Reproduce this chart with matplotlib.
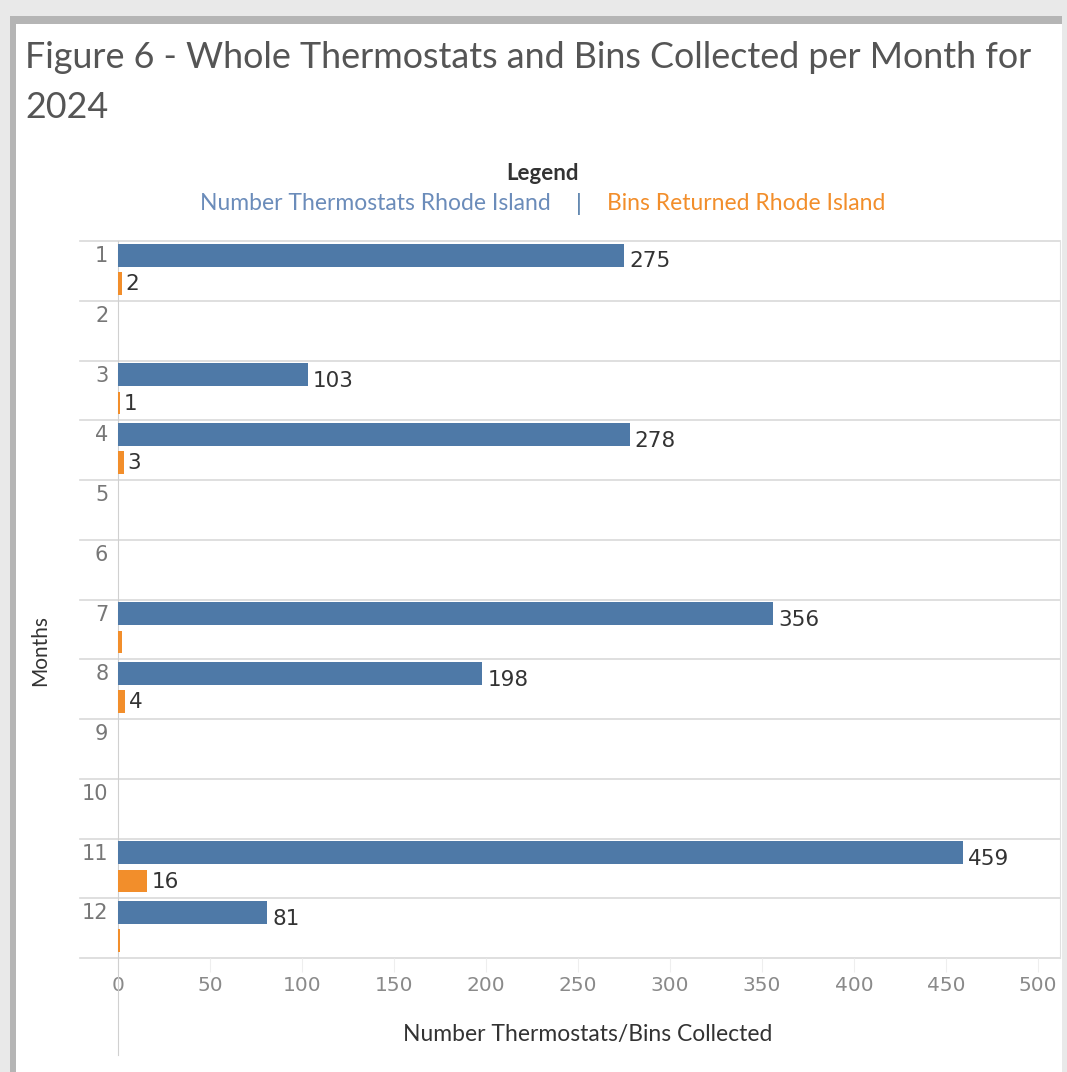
import matplotlib
matplotlib.use("Agg")
import matplotlib.pyplot as plt
from matplotlib.patches import Rectangle
import numpy as np

# data
months = [1, 2, 3, 4, 5, 6, 7, 8, 9, 10, 11, 12]
thermostats = [275, 0, 103, 278, 0, 0, 356, 198, 0, 0, 459, 81]
thermo_labels = ["275", "", "103", "278", "", "", "356", "198", "", "", "459", "81"]
bins = [2, 0, 1, 3, 0, 0, 2, 4, 0, 0, 16, 1]
bins_labels = ["2", "", "1", "3", "", "", "", "4", "", "", "16", ""]
xticks = [0, 50, 100, 150, 200, 250, 300, 350, 400, 450, 500]

blue = "#4e79a7"
orange = "#f28e2b"
W, H = 1067, 1072

plt.rcParams['font.family'] = ['Lato', 'DejaVu Sans']

fig = plt.figure(figsize=(W / 100, H / 100), dpi=100)
fig.patch.set_facecolor("#e9e9e9")

# white card with a bit of shadow like the screenshot
fig.patches.append(Rectangle((10 / W, 0), (1052 / W), 1 - 16 / H, transform=fig.transFigure,
                             facecolor="#b5b5b5", edgecolor="none", zorder=-10))
fig.patches.append(Rectangle((16 / W, 0), (1046 / W), 1 - 24 / H, transform=fig.transFigure,
                             facecolor="white", edgecolor="none", zorder=-9))

ax = fig.add_axes([118 / W, 1 - 958 / H, 942 / W, 717 / H])
ax.set_facecolor("white")

rows = np.arange(len(months))
bh = 0.38
ax.barh(rows + 0.24, thermostats, height=bh, color=blue, zorder=3)
ax.barh(rows + 0.71, bins, height=bh, color=orange, zorder=3)

# value labels
px = 1.0 / 1.84  # data units per pixel
for i in rows:
    if thermo_labels[i]:
        ax.text(thermostats[i] + 5 * px, i + 0.34, thermo_labels[i], va="center", ha="left",
                fontsize=15.5, color="#333333", family="DejaVu Sans", zorder=4)
    if bins_labels[i]:
        ax.text(bins[i] + 4 * px, i + 0.72, bins_labels[i], va="center", ha="left",
                fontsize=15.5, color="#333333", family="DejaVu Sans", zorder=4)

ax.set_ylim(12, 0)
ax.set_xlim(0, 942 / 1.84)

# row separators running into the label column
for b in range(13):
    ax.axhline(b, xmin=-38 / 942, xmax=1, color="#d9d9d9", lw=1.2, clip_on=False, zorder=1)

ax.set_yticks(rows + 0.22)
ax.set_yticklabels([str(m) for m in months], fontsize=15, color="#777777", family="DejaVu Sans")
ax.tick_params(axis="y", length=0, pad=7)

ax.set_xticks(xticks)
ax.set_xticklabels([str(t) for t in xticks], fontsize=14.5, color="#8a8a8a", family="DejaVu Sans")
ax.tick_params(axis="x", length=10, color="#eeeeee", pad=3)

for s in ["top", "bottom"]:
    ax.spines[s].set_visible(False)
ax.spines["right"].set_color("#e0e0e0")
ax.spines["left"].set_color("#d0d0d0")
ax.spines["left"].set_bounds(12 + 97 / 59.75, 0)

ax.set_ylabel("Months", fontsize=15, color="#333333")
ax.yaxis.set_label_coords((40 - 118) / 942, 1 - (650 - 241) / 717)
ax.yaxis.label.set_va("center")
ax.set_xlabel("Number Thermostats/Bins Collected", fontsize=16.5, color="#333333")
ax.xaxis.set_label_coords((588 - 118) / 942, (958 - 1034) / 717)
ax.xaxis.label.set_va("center")

# title
fig.text(25 / W, 1 - 57 / H, "Figure 6 - Whole Thermostats and Bins Collected per Month for",
         fontsize=25.8, color="#555555", va="center", ha="left")
fig.text(25 / W, 1 - 107 / H, "2024", fontsize=25.8, color="#555555", va="center", ha="left")

# legend text
fig.text(542 / W, 1 - 173 / H, "Legend", fontsize=16, weight="bold", color="#333333",
         ha="center", va="center")
fig.text(551 / W, 1 - 204 / H, "Number Thermostats Rhode Island", fontsize=16.5, color="#6b8cba",
         ha="right", va="center")
fig.text(579 / W, 1 - 204 / H, "|", fontsize=16.5, color=blue, ha="center", va="center")
fig.text(607 / W, 1 - 204 / H, "Bins Returned Rhode Island", fontsize=16.5, color=orange,
         ha="left", va="center")

fig.savefig("out.png", dpi=100, facecolor=fig.get_facecolor())
